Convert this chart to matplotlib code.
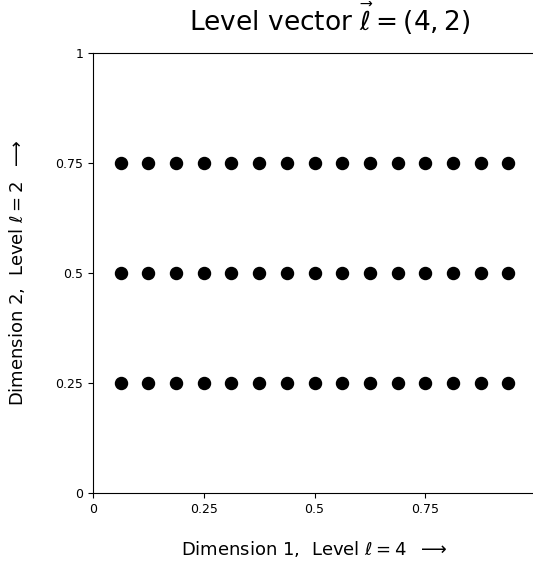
import numpy as np
import matplotlib
matplotlib.use("Agg")
import matplotlib.pyplot as plt

# grid points of the level (4, 2) anisotropic full grid
x_points = [1/16, 2/16, 3/16, 4/16, 5/16, 6/16, 7/16, 8/16,
            9/16, 10/16, 11/16, 12/16, 13/16, 14/16, 15/16]
y_points = [0.25, 0.5, 0.75]
x_ticks = [0, 0.25, 0.5, 0.75]
x_tick_labels = ["0", "0.25", "0.5", "0.75"]
y_ticks = [0, 0.25, 0.5, 0.75, 1]
y_tick_labels = ["0", "0.25", "0.5", "0.75", "1"]

xx, yy = np.meshgrid(x_points, y_points)

fig = plt.figure(figsize=(5.33, 5.64), dpi=100)
ax = fig.add_axes([93/533, 71/564, 443/533, 440/564])

ax.scatter(xx.ravel(), yy.ravel(), s=75, color="black", zorder=3)

ax.set_xlim(0, 1)
ax.set_ylim(0, 1)
ax.set_xticks(x_ticks)
ax.set_xticklabels(x_tick_labels)
ax.set_yticks(y_ticks)
ax.set_yticklabels(y_tick_labels)
ax.tick_params(labelsize=9)

ax.set_title(r"Level vector $\vec{\ell} = (4, 2)$", fontsize=19, pad=16, x=0.534)
ax.set_xlabel(r"Dimension 1,  Level $\ell = 4$  $\longrightarrow$", fontsize=13, labelpad=17)
ax.set_ylabel(r"Dimension 2,  Level $\ell = 2$  $\longrightarrow$", fontsize=13, labelpad=20)

fig.savefig("out.png", dpi=100)
